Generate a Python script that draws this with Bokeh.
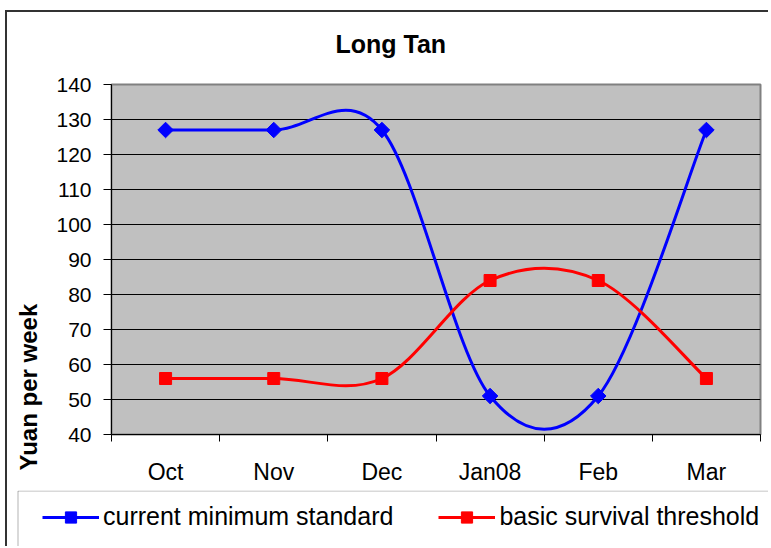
import math
from bokeh.plotting import figure
from bokeh.layouts import column
from bokeh.models import (Range1d, FixedTicker, Legend, LegendItem, Title,
                          ColumnDataSource, BoxAnnotation)
from bokeh.embed import file_html
from bokeh.resources import INLINE

# ---- data ----
months = ["Oct", "Nov", "Dec", "Jan08", "Feb", "Mar"]
current_min_standard = [127, 127, 127, 51, 51, 127]
basic_survival = [56, 56, 56, 84, 84, 56]
y_ticks = [40, 50, 60, 70, 80, 90, 100, 110, 120, 130, 140]
title_text = "Long Tan"
y_title = "Yuan per week"
series_names = ["current minimum standard", "basic survival threshold"]
FONT = "Liberation Sans"

xs = [i + 0.5 for i in range(len(months))]
blue = "#0000FF"
red = "#FF0000"


def smooth_segments(x, y):
    """Excel-like smoothed line: cubic Bezier control points (Catmull-Rom, /6)."""
    n = len(x)
    seg = dict(x0=[], y0=[], x1=[], y1=[], cx0=[], cy0=[], cx1=[], cy1=[])
    for i in range(n - 1):
        a = max(i - 1, 0)
        d = min(i + 2, n - 1)
        seg["x0"].append(x[i]); seg["y0"].append(y[i])
        seg["x1"].append(x[i + 1]); seg["y1"].append(y[i + 1])
        seg["cx0"].append(x[i] + (x[i + 1] - x[a]) / 6.0)
        seg["cy0"].append(y[i] + (y[i + 1] - y[a]) / 6.0)
        seg["cx1"].append(x[i + 1] - (x[d] - x[i]) / 6.0)
        seg["cy1"].append(y[i + 1] - (y[d] - y[i]) / 6.0)
    return ColumnDataSource(seg)


W = 768
p = figure(width=W, height=490,
           min_border_left=111, min_border_right=W - 760,
           min_border_top=84, min_border_bottom=56,
           x_range=Range1d(0, 6), y_range=Range1d(40, 140),
           output_backend="svg", toolbar_location=None)

p.background_fill_color = "#C0C0C0"
p.border_fill_alpha = 0
p.outline_line_color = "#808080"
p.outline_line_width = 2

# grid
p.xgrid.grid_line_color = None
p.ygrid.grid_line_color = "black"
p.ygrid.grid_line_width = 1
p.ygrid.ticker = FixedTicker(ticks=y_ticks)

# y axis
ya = p.yaxis[0]
ya.ticker = FixedTicker(ticks=y_ticks)
ya.axis_line_color = "black"
ya.major_tick_out = 8
ya.major_tick_in = 0
ya.minor_tick_line_color = None
ya.major_label_standoff = 12
ya.major_label_text_font = FONT
ya.major_label_text_font_size = "21px"
ya.major_label_text_color = "black"

# x axis
xa = p.xaxis[0]
xa.ticker = FixedTicker(ticks=xs, minor_ticks=list(range(len(months) + 1)))
xa.major_label_overrides = {x: m for x, m in zip(xs, months)}
xa.axis_line_color = "black"
xa.major_tick_out = 0
xa.major_tick_in = 0
xa.minor_tick_out = 7
xa.minor_tick_in = 0
xa.minor_tick_line_color = "black"
xa.major_label_standoff = 17
xa.major_label_text_font = FONT
xa.major_label_text_font_size = "23px"
xa.major_label_text_color = "black"

# series
p.bezier(source=smooth_segments(xs, current_min_standard),
         x0="x0", y0="y0", x1="x1", y1="y1",
         cx0="cx0", cy0="cy0", cx1="cx1", cy1="cy1",
         line_color=blue, line_width=3)
p.bezier(source=smooth_segments(xs, basic_survival),
         x0="x0", y0="y0", x1="x1", y1="y1",
         cx0="cx0", cy0="cy0", cx1="cx1", cy1="cy1",
         line_color=red, line_width=3)
p.scatter(xs, current_min_standard, marker="square", angle=math.pi / 4,
          size=11, fill_color=blue, line_color=blue)
p.scatter(xs, basic_survival, marker="square", size=12,
          fill_color=red, line_color=red)

# title & axis title
p.add_layout(Title(text=title_text, align="left", offset=224, standoff=53,
                   text_font=FONT, text_font_style="bold",
                   text_font_size="25px", text_color="black"), "above")
p.add_layout(Title(text=y_title, align="left", offset=-36, standoff=23,
                   text_font=FONT, text_font_style="bold",
                   text_font_size="24px", text_color="black"), "left")

# ---- legend strip (its own frame, so nothing is clipped) ----
LH = 56
q = figure(width=W, height=LH, min_border=0,
           x_range=Range1d(0, W), y_range=Range1d(-LH, 0),
           x_axis_location=None, y_axis_location=None,
           output_backend="svg", toolbar_location=None)
q.grid.visible = False
q.outline_line_color = None
q.background_fill_alpha = 0
q.border_fill_alpha = 0
for fig in (p, q):
    try:
        fig.frame_align = False
    except Exception:
        pass

q.add_layout(BoxAnnotation(left=17.5, right=W + 40, bottom=-LH - 3, top=-0.5,
                           fill_alpha=0, line_color="black", line_width=1))

# legend renderers: the series themselves, lying outside this strip's visible range
lb = q.line(xs, current_min_standard, line_color=blue, line_width=3)
mb = q.scatter(xs, current_min_standard, marker="square", angle=math.pi / 4, size=11,
               fill_color=blue, line_color=blue)
lr = q.line(xs, basic_survival, line_color=red, line_width=3)
mr = q.scatter(xs, basic_survival, marker="square", size=12,
               fill_color=red, line_color=red)

legend = Legend(items=[LegendItem(label=series_names[0], renderers=[lb, mb]),
                       LegendItem(label=series_names[1], renderers=[lr, mr])],
                orientation="horizontal", location=(42, 15),
                glyph_width=57, glyph_height=28, label_height=28,
                label_standoff=4, spacing=45, padding=0, margin=0,
                border_line_alpha=0, background_fill_alpha=0,
                label_text_font=FONT, label_text_font_size="25px",
                label_text_color="black", label_text_baseline="middle")
q.add_layout(legend, "center")

layout = column(p, q, spacing=0)
layout.styles = {
    "background": ("linear-gradient(#333333, #333333) 5px 10px / 2px 100% no-repeat, "
                   "linear-gradient(#333333, #333333) 5px 10px / 100% 2px no-repeat, "
                   "#ffffff")
}

open("out.html", "w").write(file_html(layout, INLINE))
